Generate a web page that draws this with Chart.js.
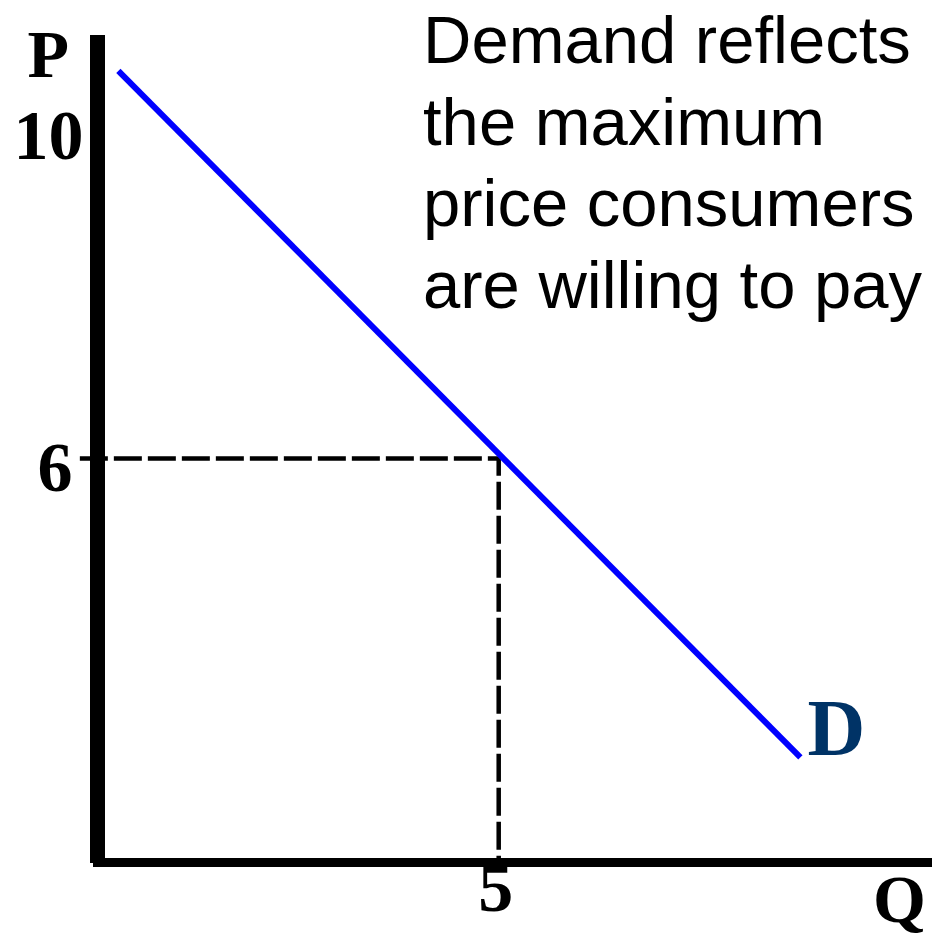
<!DOCTYPE html>
<html>
<head>
<meta charset="utf-8">
<title>Demand</title>
<script src="https://cdn.jsdelivr.net/npm/chart.js@4.4.1/dist/chart.umd.min.js"></script>
<style>
  html, body { margin: 0; padding: 0; background: #fff; }
  canvas { display: block; }
</style>
</head>
<body>
<canvas id="demandChart" width="932" height="939"></canvas>
<script>
// demand curve end points (quantity, price)
const demandQ = [0.26, 8.76];
const demandP = [10.8, 2.3];

// dashed guide from the price axis to the point on the curve and down to Q
const guideQ = [-0.22, 5, 5];
const guideP = [6, 6, 1];

// values written on the axes
const priceTicks = [10, 6];
const qtyTicks = [5];

const noteLines = ["Demand reflects", "the maximum", "price consumers", "are willing to pay"];

// small nudges for the hand placed axis numbers
const tickNudge = { 10: [-14, 24], 6: [-25, 32], 5: [-3, 48.5] };

function toPoints(xs, ys) {
    return xs.map((x, i) => ({ x: x, y: ys[i] }));
}

const labelPlugin = {
    id: "labels",
    afterDraw(chart) {
        const ctx = chart.ctx;
        const xs = chart.scales.x;
        const ys = chart.scales.y;
        const area = chart.chartArea;
        ctx.save();
        ctx.fillStyle = "#000";
        ctx.textBaseline = "alphabetic";

        // axis numbers
        ctx.font = "bold 70px 'Liberation Serif'";
        ctx.textAlign = "right";
        priceTicks.forEach(v => {
            const n = tickNudge[v];
            ctx.fillText(String(v), area.left + n[0], ys.getPixelForValue(v) + n[1]);
        });
        ctx.textAlign = "center";
        qtyTicks.forEach(v => {
            const n = tickNudge[v];
            ctx.fillText(String(v), xs.getPixelForValue(v) + n[0], area.bottom + n[1]);
        });

        // axis names
        ctx.font = "bold 68px 'Liberation Serif'";
        ctx.textAlign = "left";
        ctx.fillText("P", area.left - 70, area.top + 34.5);
        ctx.fillText("Q", area.right - 59, area.bottom + 59.5);

        // curve name at its lower end
        const last = demandQ.length - 1;
        ctx.font = "bold 80px 'Liberation Serif'";
        ctx.fillStyle = "#003366";
        ctx.fillText("D", xs.getPixelForValue(demandQ[last]) + 7, ys.getPixelForValue(demandP[last]) - 2);

        // note in the top right corner
        ctx.fillStyle = "#000";
        ctx.font = "67px 'Liberation Sans'";
        noteLines.forEach((line, i) => {
            ctx.fillText(line, 423, 63 + i * 81.7);
        });
        ctx.restore();
    }
};

const ctx = document.getElementById("demandChart").getContext("2d");

const demandChart = new Chart(ctx, {
    type: "scatter",
    data: {
        datasets: [{
            data: toPoints(guideQ, guideP),
            showLine: true,
            borderColor: "#000",
            borderWidth: 4.5,
            borderDash: [28, 6],
            pointRadius: 0,
            clip: false,
            order: 2
        }, {
            data: toPoints(demandQ, demandP),
            showLine: true,
            borderColor: "#0000ff",
            borderWidth: 6,
            pointRadius: 0,
            order: 1
        }]
    },
    options: {
        responsive: false,
        animation: false,
        layout: { padding: { left: 97.5, top: 42.5, right: 0, bottom: 76.5 } },
        plugins: {
            legend: { display: false },
            tooltip: { enabled: false }
        },
        scales: {
            x: {
                type: "linear",
                min: 0,
                max: 10.4,
                grid: { display: false, drawTicks: false },
                ticks: { display: false },
                border: { display: true, color: "#000", width: 9 }
            },
            y: {
                type: "linear",
                min: 1,
                max: 11.15,
                grid: { display: false, drawTicks: false },
                ticks: { display: false },
                border: { display: true, color: "#000", width: 15 }
            }
        }
    },
    plugins: [labelPlugin]
});
</script>
</body>
</html>
